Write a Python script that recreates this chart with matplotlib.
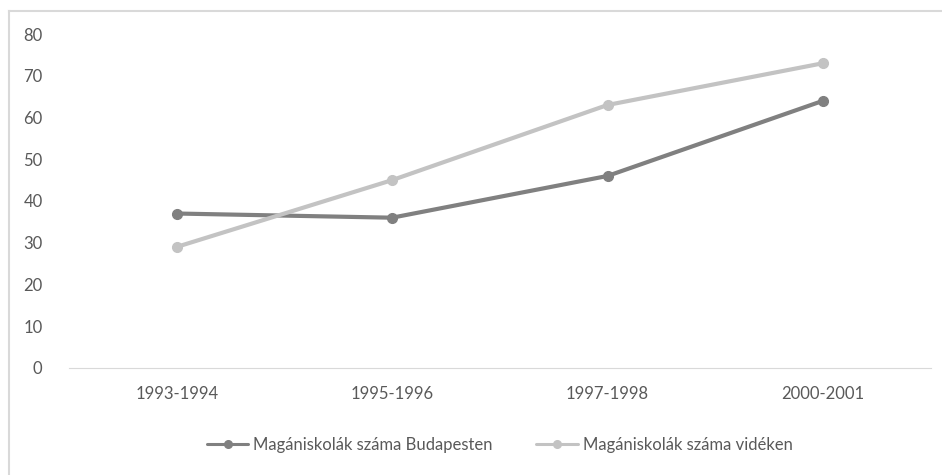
import matplotlib
matplotlib.use("Agg")
import matplotlib.pyplot as plt
from matplotlib.lines import Line2D

# school years and number of private schools
years = ["1993-1994", "1995-1996", "1997-1998", "2000-2001"]
budapest = [37, 36, 46, 64]
videk = [29, 45, 63, 73]

plt.rcParams['font.family'] = ['Lato', 'DejaVu Sans']
textcol = "#595959"

fig = plt.figure(figsize=(9.42, 4.75), dpi=100)
ax = fig.add_axes([0.0732, 0.2253, 0.9148, 0.7031])

x = range(len(years))
ax.plot(x, budapest, color="#808080", lw=3, marker="o", ms=7,
        label="Magániskolák száma Budapesten", solid_capstyle="round")
ax.plot(x, videk, color="#c3c3c3", lw=3, marker="o", ms=7,
        label="Magániskolák száma vidéken", solid_capstyle="round")

ax.set_xlim(-0.5, len(years) - 0.5)
ax.set_ylim(0, 80)
ax.set_yticks(range(0, 81, 10))
ax.set_xticks(list(x))
ax.set_xticklabels(years)
ax.tick_params(length=0, labelsize=12, labelcolor=textcol)
ax.tick_params(axis="x", pad=13)
ax.tick_params(axis="y", pad=19)
for s in ["top", "right", "left"]:
    ax.spines[s].set_visible(False)
ax.spines["bottom"].set_color("#d9d9d9")

leg = ax.legend(loc="center", bbox_to_anchor=(0.5, -0.23), ncol=2, frameon=False,
                fontsize=12, labelcolor=textcol, handlelength=2.5,
                columnspacing=2.6, handletextpad=0.3)
for h in leg.legend_handles:
    h.set_linewidth(2.2)
    h.set_markersize(5.5)

# chart border (left and top edges visible)
fig.add_artist(Line2D([0.0095, 0.0095], [0, 0.976], color="#d9d9d9", lw=1.5,
                      transform=fig.transFigure))
fig.add_artist(Line2D([0.0095, 1.0], [0.976, 0.976], color="#d9d9d9", lw=1.5,
                      transform=fig.transFigure))

fig.savefig("out.png", dpi=100)
